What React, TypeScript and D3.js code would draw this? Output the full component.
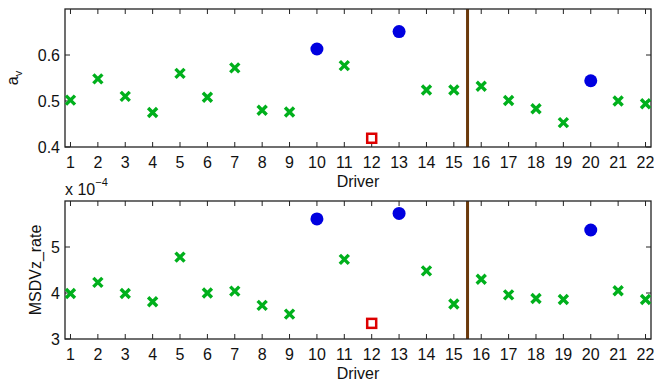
import * as d3 from "d3";
import React, { useEffect, useRef } from "react";

const drivers = d3.range(1, 23);
const avValues = [
  0.502, 0.548, 0.51, 0.475, 0.56, 0.508, 0.572, 0.48, 0.476, 0.613, 0.577,
  0.419, 0.651, 0.524, 0.524, 0.532, 0.501, 0.483, 0.453, 0.544, 0.5, 0.494,
];
const msdvValues = [
  3.99, 4.23, 3.99, 3.81, 4.78, 4.0, 4.04, 3.73, 3.54, 5.61, 4.73, 3.34, 5.73,
  4.48, 3.76, 4.3, 3.96, 3.88, 3.86, 5.37, 4.05, 3.86,
].map((v) => v * 1e-4);
// marker group per driver: x = normal, o = outlier, s = special
const groups = [
  "x", "x", "x", "x", "x", "x", "x", "x", "x", "o", "x",
  "s", "o", "x", "x", "x", "x", "x", "x", "o", "x", "x",
];
const avTicks = [0.4, 0.5, 0.6];
const msdvTicks = [3e-4, 4e-4, 5e-4];
const splitAt = 15.5;

const FONT = "'Liberation Sans', Arial, Helvetica, sans-serif";
const FS = 16;
const GREEN = "#00b01c";
const BLUE = "#0000e0";
const RED = "#dd0000";
const BROWN = "#6b3a0c";

const App = () => {
  const svgRef = useRef<SVGSVGElement>(null);

  useEffect(() => {
    const svg = d3.select(svgRef.current);
    svg.selectAll("*").remove();

    const left = 65;
    const right = 651;

    const x = d3.scaleLinear().domain([0.8, 22.2]).range([left, right]);

    const panels = [
      {
        values: avValues,
        top: 9,
        bottom: 147,
        domain: [0.4, 0.7],
        ticks: avTicks,
        fmt: (d: number) => d3.format(".1f")(d),
        label: "a",
        sub: "v",
        labelX: 18,
        exponent: false,
      },
      {
        values: msdvValues,
        top: 201,
        bottom: 339,
        domain: [3e-4, 6e-4],
        ticks: msdvTicks,
        fmt: (d: number) => String(Math.round(d * 1e4)),
        label: "MSDVz_rate",
        sub: "",
        labelX: 41,
        exponent: true,
      },
    ];

    panels.forEach((p) => {
      const y = d3.scaleLinear().domain(p.domain).range([p.bottom, p.top]);
      const g = svg.append("g");

      // vertical divider
      g.append("line")
        .attr("x1", x(splitAt))
        .attr("x2", x(splitAt))
        .attr("y1", p.top)
        .attr("y2", p.bottom)
        .attr("stroke", BROWN)
        .attr("stroke-width", 3);

      // ticks (inside, on all four sides)
      drivers.forEach((d) => {
        g.append("line")
          .attr("x1", x(d)).attr("x2", x(d))
          .attr("y1", p.bottom).attr("y2", p.bottom - 5)
          .attr("stroke", "#222").attr("stroke-width", 1);
        g.append("line")
          .attr("x1", x(d)).attr("x2", x(d))
          .attr("y1", p.top).attr("y2", p.top + 5)
          .attr("stroke", "#222").attr("stroke-width", 1);
        g.append("text")
          .attr("x", x(d))
          .attr("y", p.bottom + 21)
          .attr("text-anchor", "middle")
          .attr("font-family", FONT)
          .attr("font-size", FS)
          .attr("fill", "#111")
          .text(d);
      });

      p.ticks.forEach((t) => {
        g.append("line")
          .attr("x1", left).attr("x2", left + 5)
          .attr("y1", y(t)).attr("y2", y(t))
          .attr("stroke", "#222");
        g.append("line")
          .attr("x1", right).attr("x2", right - 5)
          .attr("y1", y(t)).attr("y2", y(t))
          .attr("stroke", "#222");
        g.append("text")
          .attr("x", left - 5)
          .attr("y", y(t))
          .attr("dy", "0.36em")
          .attr("text-anchor", "end")
          .attr("font-family", FONT)
          .attr("font-size", FS)
          .attr("fill", "#111")
          .text(p.fmt(t));
      });

      // box
      g.append("rect")
        .attr("x", left)
        .attr("y", p.top)
        .attr("width", right - left)
        .attr("height", p.bottom - p.top)
        .attr("fill", "none")
        .attr("stroke", "#222")
        .attr("stroke-width", 1.3);

      // x label
      g.append("text")
        .attr("x", (left + right) / 2)
        .attr("y", p.bottom + 40)
        .attr("text-anchor", "middle")
        .attr("font-family", FONT)
        .attr("font-size", FS)
        .attr("fill", "#111")
        .text("Driver");

      // y label
      const yl = g.append("text")
        .attr("transform", `translate(${p.labelX},${(p.top + p.bottom) / 2}) rotate(-90)`)
        .attr("text-anchor", "middle")
        .attr("font-family", FONT)
        .attr("font-size", FS)
        .attr("fill", "#111");
      yl.append("tspan").text(p.label);
      if (p.sub) {
        yl.append("tspan").attr("font-size", 11).attr("dy", 4).text(p.sub);
      }

      if (p.exponent) {
        const ex = g.append("text")
          .attr("x", left)
          .attr("y", p.top - 6)
          .attr("font-family", FONT)
          .attr("font-size", FS)
          .attr("fill", "#111");
        ex.append("tspan").text("x 10");
        ex.append("tspan").attr("font-size", 11).attr("dy", -9).text("\u22124");
      }

      // markers
      const pts = drivers.map((d, i) => ({ d, v: p.values[i], k: groups[i] }));
      const cx = 4.5;
      g.selectAll(".mx")
        .data(pts.filter((q) => q.k === "x"))
        .enter()
        .append("path")
        .attr("d", (q) => {
          const px = x(q.d), py = y(q.v);
          return `M${px - cx},${py - cx}L${px + cx},${py + cx}M${px - cx},${py + cx}L${px + cx},${py - cx}`;
        })
        .attr("stroke", GREEN)
        .attr("stroke-width", 3.4)
        .attr("fill", "none");

      g.selectAll(".mo")
        .data(pts.filter((q) => q.k === "o"))
        .enter()
        .append("circle")
        .attr("cx", (q) => x(q.d))
        .attr("cy", (q) => y(q.v))
        .attr("r", 6.5)
        .attr("fill", BLUE);

      g.selectAll(".ms")
        .data(pts.filter((q) => q.k === "s"))
        .enter()
        .append("rect")
        .attr("x", (q) => x(q.d) - 4.5)
        .attr("y", (q) => y(q.v) - 4.5)
        .attr("width", 9)
        .attr("height", 9)
        .attr("fill", "none")
        .attr("stroke", RED)
        .attr("stroke-width", 2.5);
    });
  }, []);

  return (
    <svg
      ref={svgRef}
      width={654}
      height={381}
      style={{ position: "absolute", left: 0, top: 0, background: "#fff" }}
    />
  );
};

export default App;
